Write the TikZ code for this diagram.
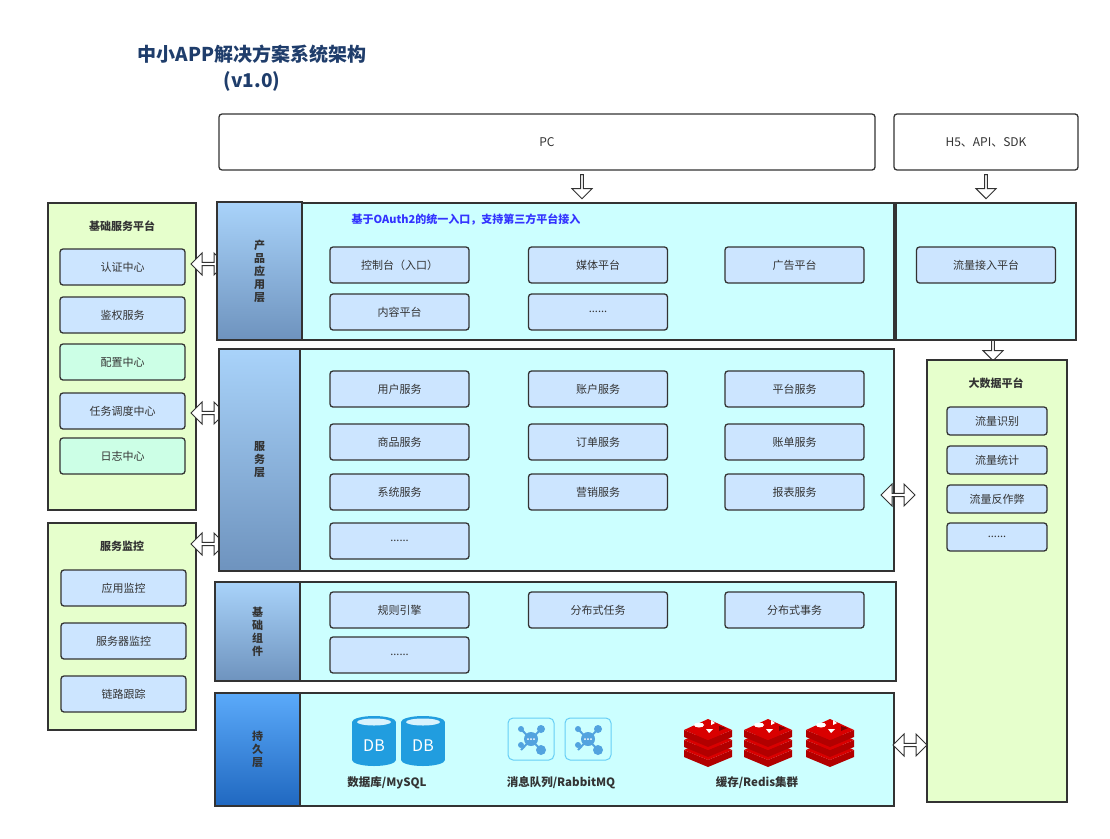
\documentclass[tikz,border=0pt]{standalone}
\usepackage{fontspec}
\setmainfont{Noto Sans CJK SC}
\usetikzlibrary{shapes.arrows,shapes.geometric}
\definecolor{cyanbg}{HTML}{CCFFFF}
\definecolor{greenbg}{HTML}{E6FFCC}
\definecolor{bluebox}{HTML}{CCE5FF}
\definecolor{greenbox}{HTML}{CCFFE6}
\definecolor{edge}{HTML}{333333}
\definecolor{titleblue}{HTML}{1F3D6B}
\definecolor{gtop}{HTML}{A9D3FA}
\definecolor{gbot}{HTML}{6E93BE}
\definecolor{ptop}{HTML}{5BAAFA}
\definecolor{pbot}{HTML}{2068C0}
\begin{document}
\begin{tikzpicture}[x=1pt,y=-1pt,
  box/.style={draw=edge,line width=1.3pt,rounded corners=3pt,fill=bluebox,font=\fontsize{11}{13}\selectfont,text=edge},
  gbox/.style={box,fill=greenbox},
  panel/.style={draw=edge,line width=1.2pt},
  lbl/.style={draw=edge,line width=1.2pt,top color=gtop,bottom color=gbot,font=\bfseries\fontsize{11}{13}\selectfont,align=center,text=edge},
  darr/.style={double arrow,draw=edge,fill=white,line width=1pt,minimum width=22pt,minimum height=34pt,double arrow head extend=3pt,inner sep=0pt},
  darrow/.style={single arrow,draw=edge,fill=white,line width=1pt,shape border rotate=270,minimum width=20pt,minimum height=24pt,single arrow head extend=3pt,inner sep=0pt},
  ttl/.style={font=\bfseries\fontsize{11}{13}\selectfont,text=edge}]
\useasboundingbox (0,0) rectangle (1110,838);
\node[font=\bfseries\fontsize{19}{22}\selectfont,text=titleblue] (t1) at (252,54) {中小APP解决方案系统架构};
\node[font=\bfseries\fontsize{19}{22}\selectfont,text=titleblue] (t2) at (252,81) {(v1.0)};
% top
\draw[box,fill=white] (219,114) rectangle (875,170) node[midway,font=\fontsize{12}{13}\selectfont] (pc) {PC};
\draw[box,fill=white] (894,114) rectangle (1078,170) node[midway,font=\fontsize{12}{13}\selectfont] (h5) {H5、API、SDK};
\node[darrow] (a1) at (582,186) {};
\node[darrow] (a2) at (986,186) {};
\node[darrow] (a3) at (993,348) {};
% left panels
\draw[panel,fill=greenbg] (48,203) rectangle (196,510);
\node[ttl] (p1) at (122,226) {基础服务平台};
\foreach \n/\y/\s in {认证中心/267/box,鉴权服务/315/box,配置中心/362/gbox,任务调度中心/411/box,日志中心/456/gbox}
  \node[\s,minimum width=125pt,minimum height=36pt] (l\y) at (122.5,\y) {\n};
\draw[panel,fill=greenbg] (48,523) rectangle (196,730);
\node[ttl] (p2) at (122,546) {服务监控};
\foreach \n/\y in {应用监控/588,服务器监控/641,链路跟踪/694}
  \node[box,minimum width=125pt,minimum height=36pt] (m\y) at (123.5,\y) {\n};
\node[darr] (d1) at (208,264) {};
\node[darr] (d2) at (208,413) {};
\node[darr] (d3) at (208,544) {};
% layers
\draw[panel,fill=cyanbg] (302,203) rectangle (894,340);
\draw[panel,fill=cyanbg] (896,203) rectangle (1076,340);
\draw[lbl] (217,202) rectangle (302,340) node[midway] (L1) {产\\品\\应\\用\\层};
\draw[panel,fill=cyanbg] (300,349) rectangle (894,571);
\draw[lbl] (219,349) rectangle (300,571) node[midway] (L2) {服\\务\\层};
\draw[panel,fill=cyanbg] (300,582) rectangle (896,681);
\draw[lbl] (215,582) rectangle (300,681) node[midway] (L3) {基\\础\\组\\件};
\draw[panel,fill=cyanbg] (300,693) rectangle (894,806);
\draw[lbl,top color=ptop,bottom color=pbot] (215,693) rectangle (300,806) node[midway] (L4) {持\\久\\层};
\node[font=\bfseries\fontsize{11}{13}\selectfont,text=blue!80!white] (oa) at (466,220) {基于OAuth2的统一入口，支持第三方平台接入};
\tikzset{ib/.style={box,minimum width=139pt,minimum height=36pt}}
\node[ib] (c1) at (399.5,265) {控制台（入口）};
\node[ib] (c2) at (598,265) {媒体平台};
\node[ib] (c3) at (794.5,265) {广告平台};
\node[ib] (c4) at (399.5,312) {内容平台};
\node[ib] (c5) at (598,312) {......};
\node[ib] (c6) at (986,265) {流量接入平台};
\node[ib] (s1) at (399.5,389) {用户服务};
\node[ib] (s2) at (598,389) {账户服务};
\node[ib] (s3) at (794.5,389) {平台服务};
\node[ib] (s4) at (399.5,442) {商品服务};
\node[ib] (s5) at (598,442) {订单服务};
\node[ib] (s6) at (794.5,442) {账单服务};
\node[ib] (s7) at (399.5,492) {系统服务};
\node[ib] (s8) at (598,492) {营销服务};
\node[ib] (s9) at (794.5,492) {报表服务};
\node[ib] (s10) at (399.5,541) {......};
\node[ib] (b1) at (399.5,610) {规则引擎};
\node[ib] (b2) at (598,610) {分布式任务};
\node[ib] (b3) at (794.5,610) {分布式事务};
\node[ib] (b4) at (399.5,655) {......};
% big data
\draw[panel,fill=greenbg] (927,360) rectangle (1067,802);
\node[ttl] (bd) at (996,383) {大数据平台};
\tikzset{sb/.style={box,minimum width=100pt,minimum height=28pt}}
\node[sb] (g1) at (997,421) {流量识别};
\node[sb] (g2) at (997,460) {流量统计};
\node[sb] (g3) at (997,499) {流量反作弊};
\node[sb] (g4) at (997,537) {......};
\node[darr] (d4) at (898,495) {};
\node[darr] (d5) at (910,745) {};
% DB icons
\foreach \x in {374,423}{
  \fill[cyan!80!blue!90] (\x-22,722) rectangle (\x+22,760);
  \fill[cyan!80!blue!90] (\x,760) ellipse (22 and 6);
  \fill[cyan!80!blue!90] (\x,722) ellipse (22 and 6);
  \fill[white!85!cyan] (\x,722) ellipse (17 and 3.5);
  \node[white,font=\fontsize{16}{17}\selectfont] at (\x,746) {DB};
}
% MQ icons
\foreach \x in {531,588}{
  \draw[cyan!60,line width=1pt,rounded corners=5pt] (\x-23,718) rectangle (\x+23,760);
  \draw[cyan!70!blue!70,line width=2pt] (\x-10,729)--(\x+10,750) (\x+10,729)--(\x-10,750);
  \fill[cyan!70!blue!70] (\x-10,729) circle (3) (\x+10,729) circle (4) (\x-10,745) circle (3) (\x+10,750) circle (5);
  \fill[cyan!70!blue!70] (\x,739) circle (7);
  \fill[white] (\x-3,739) circle (1) (\x,739) circle (1) (\x+3,739) circle (1);
}
% Redis icons
\foreach \x in {708,768,830}{
  \foreach \dy in {20,10,0}{
    \fill[red!70!black] (\x-24,730+\dy)--(\x,740+\dy)--(\x+24,730+\dy)--(\x+24,737+\dy)--(\x,747+\dy)--(\x-24,737+\dy)--cycle;
    \fill[red!85!black] (\x-24,730+\dy)--(\x,719+\dy)--(\x+24,730+\dy)--(\x,740+\dy)--cycle;
  }
  \fill[white] (\x-9,725) ellipse (5 and 2.5);
  \fill[white] (\x+3,720) -- (\x+7,723) -- (\x+3,725)--cycle;
  \fill[white] (\x-2,729) -- (\x+5,729) -- (\x+1,733)--cycle;
  \fill[red!50!black] (\x+11,726)--(\x+18,728)--(\x+11,731)--cycle;
}
\node[ttl,font=\bfseries\fontsize{11.5}{13}\selectfont] (n1) at (387,783) {数据库/MySQL};
\node[ttl,font=\bfseries\fontsize{11.5}{13}\selectfont] (n2) at (561,783) {消息队列/RabbitMQ};
\node[ttl,font=\bfseries\fontsize{11.5}{13}\selectfont] (n3) at (757,783) {缓存/Redis集群};
\end{tikzpicture}
\end{document}
